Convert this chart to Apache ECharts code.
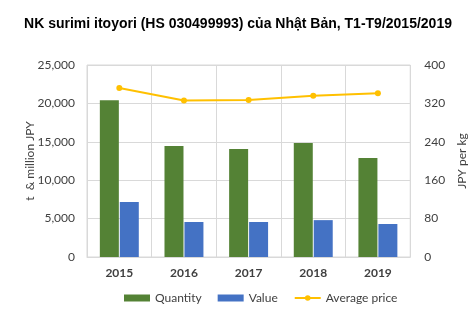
<!DOCTYPE html>
<html>
<head>
<meta charset="utf-8">
<script src="https://cdn.jsdelivr.net/npm/echarts@6/dist/echarts.min.js"></script>
<style>
html,body{margin:0;padding:0;background:#fff;}
#chart{width:476px;height:322px;}
</style>
</head>
<body>
<div id="chart"></div>
<script>
// Japan's itoyori surimi imports, Jan–Sep of each year
const years = ['2015', '2016', '2017', '2018', '2019'];
const quantity = [20400, 14450, 14050, 14850, 12900];   // t
const value = [7150, 4560, 4560, 4800, 4300];           // million JPY
const avgPrice = [352, 326, 327, 336, 341];             // JPY per kg
const leftTicks = [0, 25000, 5000];   // min, max, step
const rightTicks = [0, 400, 80];

const font = 'Lato, "Open Sans", sans-serif';
const labelColor = '#404040';
const chart = echarts.init(document.getElementById('chart'));
chart.setOption({
  animation: false,
  title: {
    text: 'NK surimi itoyori (HS 030499993) của Nhật Bản, T1-T9/2015/2019',
    left: 'center', top: 12,
    textStyle: { fontFamily: '"Liberation Sans", Arial, sans-serif', fontSize: 14, fontWeight: 'bold', color: '#000' }
  },
  grid: { left: 87, right: 58, top: 65, bottom: 65, show: true, borderColor: '#d9d9d9', borderWidth: 1 },
  legend: {
    bottom: 13, left: 119, itemGap: 16, itemWidth: 26, itemHeight: 7,
    textStyle: { fontFamily: font, fontSize: 12, color: labelColor },
    data: [
      { name: 'Quantity', icon: 'rect' },
      { name: 'Value', icon: 'rect' },
      { name: 'Average price' }
    ]
  },
  xAxis: {
    type: 'category', data: years,
    axisTick: { show: false },
    axisLine: { lineStyle: { color: '#d9d9d9' } },
    splitLine: { show: true, lineStyle: { color: '#d9d9d9' } },
    axisLabel: { fontFamily: font, fontSize: 12, fontWeight: 'bold', color: labelColor, margin: 10 }
  },
  yAxis: [
    {
      type: 'value', min: leftTicks[0], max: leftTicks[1], interval: leftTicks[2],
      name: 't  & million JPY', nameLocation: 'middle', nameGap: 51, nameRotate: 90,
      nameMoveOverlap: false,
      nameTextStyle: { fontFamily: font, fontSize: 12, color: labelColor },
      axisLabel: { fontFamily: font, fontSize: 12, color: labelColor, margin: 12,
        formatter: v => v.toLocaleString('en-US') },
      splitLine: { lineStyle: { color: '#d9d9d9' } },
      axisLine: { show: false }, axisTick: { show: false }
    },
    {
      type: 'value', min: rightTicks[0], max: rightTicks[1], interval: rightTicks[2],
      name: 'JPY per kg', nameLocation: 'middle', nameGap: 33, nameRotate: 90,
      nameTextStyle: { fontFamily: font, fontSize: 12, color: labelColor },
      axisLabel: { fontFamily: font, fontSize: 12, color: labelColor, margin: 14 },
      splitLine: { show: false },
      axisLine: { show: false }, axisTick: { show: false }
    }
  ],
  series: [
    {
      name: 'Quantity', type: 'bar', data: quantity, barWidth: 19, barGap: '5%',
      itemStyle: { color: '#548235' }
    },
    {
      name: 'Value', type: 'bar', data: value, barWidth: 19,
      itemStyle: { color: '#4472c4' }
    },
    {
      name: 'Average price', type: 'line', yAxisIndex: 1, data: avgPrice,
      symbol: 'circle', symbolSize: 6,
      lineStyle: { color: '#ffc000', width: 2 },
      itemStyle: { color: '#ffc000' }
    }
  ]
});
</script>
</body>
</html>
